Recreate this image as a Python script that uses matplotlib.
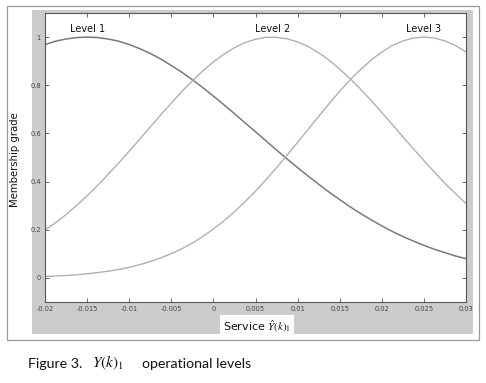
import matplotlib
matplotlib.use("Agg")
import matplotlib.pyplot as plt
from matplotlib.patches import Rectangle

# Data
service = [-0.02, -0.01875, -0.0175, -0.01625, -0.015, -0.01375, -0.0125, -0.01125,
           -0.01, -0.00875, -0.0075, -0.00625, -0.005, -0.00375, -0.0025, -0.00125,
           0.0, 0.00125, 0.0025, 0.00375, 0.005, 0.00625, 0.0075, 0.00875,
           0.01, 0.01125, 0.0125, 0.01375, 0.015, 0.01625, 0.0175, 0.01875,
           0.02, 0.02125, 0.0225, 0.02375, 0.025, 0.02625, 0.0275, 0.02875, 0.03]
level1 = [0.969, 0.983, 0.992, 0.998, 1.000, 0.998, 0.992, 0.983,
          0.969, 0.952, 0.932, 0.909, 0.882, 0.854, 0.823, 0.790,
          0.755, 0.719, 0.682, 0.644, 0.607, 0.569, 0.531, 0.494,
          0.458, 0.423, 0.389, 0.356, 0.325, 0.295, 0.267, 0.241,
          0.216, 0.193, 0.172, 0.153, 0.135, 0.119, 0.105, 0.091, 0.080]
level2 = [0.198, 0.229, 0.263, 0.301, 0.341, 0.384, 0.430, 0.477,
          0.526, 0.576, 0.627, 0.677, 0.726, 0.774, 0.818, 0.860,
          0.897, 0.929, 0.956, 0.977, 0.991, 0.999, 0.999, 0.993,
          0.980, 0.961, 0.935, 0.904, 0.867, 0.827, 0.783, 0.736,
          0.687, 0.637, 0.586, 0.536, 0.487, 0.439, 0.393, 0.350, 0.309]
level3 = [0.006, 0.008, 0.010, 0.013, 0.017, 0.022, 0.028, 0.035,
          0.044, 0.055, 0.068, 0.083, 0.101, 0.121, 0.145, 0.172,
          0.203, 0.237, 0.275, 0.316, 0.360, 0.408, 0.458, 0.510,
          0.563, 0.617, 0.671, 0.724, 0.775, 0.823, 0.866, 0.905,
          0.938, 0.965, 0.984, 0.996, 1.000, 0.996, 0.984, 0.965, 0.938]
level_names = ["Level 1", "Level 2", "Level 3"]
level_peaks = [-0.015, 0.007, 0.025]
xticks = [-0.02, -0.015, -0.01, -0.005, 0, 0.005, 0.01, 0.015, 0.02, 0.025, 0.03]
xticklabels = ["-0.02", "-0.015", "-0.01", "-0.005", "0", "0.005", "0.01",
               "0.015", "0.02", "0.025", "0.03"]
yticks = [0, 0.2, 0.4, 0.6, 0.8, 1]
yticklabels = ["0", "0.2", "0.4", "0.6", "0.8", "1"]

plt.rcParams['mathtext.fontset'] = 'stix'

W, H = 486, 383
fig = plt.figure(figsize=(W / 100, H / 100), dpi=100)
fig.patch.set_facecolor("white")

def fx(px):
    return px / W

def fy(py):
    return 1 - py / H

# outer border
fig.patches.append(Rectangle((fx(7), fy(340)), fx(472), 334 / H, transform=fig.transFigure,
                             facecolor="white", edgecolor="#9a9a9a", lw=0.9, zorder=0))
# matlab gray background
fig.patches.append(Rectangle((fx(32), fy(334)), fx(441), 324 / H, transform=fig.transFigure,
                             facecolor="#cccccc", edgecolor="none", zorder=1))

ax = fig.add_axes([fx(45), fy(302), fx(421), 289 / H])
ax.set_zorder(2)
ax.set_facecolor("white")

ax.plot(service, level1, color="#7a7a7a", lw=1.1)
ax.plot(service, level2, color="#b0b0b0", lw=1.0)
ax.plot(service, level3, color="#b0b0b0", lw=1.0)

for name, px in zip(level_names, level_peaks):
    ax.text(px, 1.033, name, ha="center", va="center", fontsize=7, color="#111111")

ax.set_xlim(-0.02, 0.03)
ax.set_ylim(-0.1, 1.1)
ax.set_xticks(xticks)
ax.set_xticklabels(xticklabels)
ax.set_yticks(yticks)
ax.set_yticklabels(yticklabels)
ax.tick_params(direction="in", length=3, width=0.6, labelsize=4.8, labelcolor="#444444",
               color="#555555", top=True, right=True, pad=3)
for s in ax.spines.values():
    s.set_color("#555555")
    s.set_linewidth(0.8)

fig.text(fx(15), fy(160), "Membership grade", rotation=90, ha="center", va="center",
         fontsize=7.3, color="#111111")

fig.text(fx(257), fy(327), r"Service $\hat{Y}(k)_{\!1}$", ha="center", va="center",
         fontsize=8, color="#111111",
         bbox=dict(facecolor="white", edgecolor="none", pad=2.5))

fig.text(fx(28), fy(364), "Figure 3.", ha="left", va="center", fontsize=10.2,
         family="Lato", color="#111111")
fig.text(fx(92), fy(363), r"$Y(k)_1$", ha="left", va="center", fontsize=11,
         color="#111111")
fig.text(fx(142), fy(364), "operational levels", ha="left", va="center", fontsize=10.2,
         family="Lato", color="#111111")

fig.savefig("out.png", dpi=100)
